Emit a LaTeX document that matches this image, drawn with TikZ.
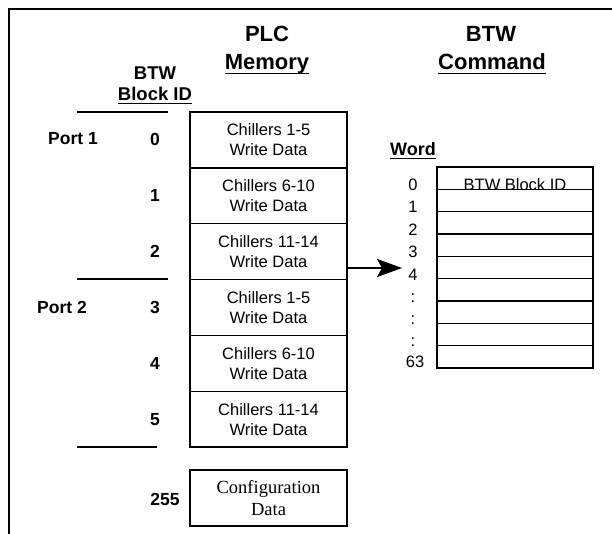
\documentclass[tikz,border=0pt]{standalone}
\usepackage{fontspec}
\setmainfont{Liberation Sans}
\newfontfamily\seriffam{Liberation Serif}
\usetikzlibrary{arrows.meta}
\newcommand\myul[2][4.5pt]{\setbox0\hbox{#2}\rlap{\rule[-#1]{\wd0}{1.3pt}}\box0}
\begin{document}
\begin{tikzpicture}[x=1pt,y=-1pt,
  head/.style={font=\bfseries\fontsize{22}{26}\selectfont, anchor=base, inner sep=0pt},
  subhead/.style={font=\bfseries\fontsize{18.5}{22}\selectfont, anchor=base, inner sep=0pt},
  lab/.style={font=\bfseries\fontsize{17.5}{21}\selectfont, inner sep=0pt},
  memcell/.style={draw, line width=1.3pt, minimum width=157pt, minimum height=55.83pt, align=center, font=\fontsize{16.5}{20}\selectfont, inner sep=0pt},
  wordcell/.style={draw, line width=1.1pt, minimum width=156pt, minimum height=22.33pt, inner sep=0pt},
  wnum/.style={font=\fontsize{16.5}{18}\selectfont, inner sep=0pt},
  sepline/.style={line width=1.3pt},
]
\useasboundingbox (0,0) rectangle (612,534);
\draw[line width=2.5pt] (9,534) -- (9,9) -- (612,9);

% headings
\node[head] (plc) at (267,42) {PLC};
\node[head] (mem) at (267,70) {\myul{Memory}};
\node[head] (btw) at (491,42) {BTW};
\node[head] (cmd) at (492,70) {\myul{Command}};
\node[subhead] (bbtw) at (155,80) {BTW};
\node[subhead] (bid) at (155,100.5) {\myul[4pt]{Block ID}};

% separators
\draw[sepline] (77,112) -- (168,112);
\draw[sepline] (77,279) -- (168,279);
\draw[sepline] (77,447) -- (157,447);

% memory cells
\node[memcell] (m0) at (268.5,139.9) {Chillers 1-5\\Write Data};
\node[memcell] (m1) at (268.5,195.8) {Chillers 6-10\\Write Data};
\node[memcell] (m2) at (268.5,251.6) {Chillers 11-14\\Write Data};
\node[memcell] (m3) at (268.5,307.4) {Chillers 1-5\\Write Data};
\node[memcell] (m4) at (268.5,363.3) {Chillers 6-10\\Write Data};
\node[memcell] (m5) at (268.5,419.1) {Chillers 11-14\\Write Data};
\node[memcell, minimum height=56pt, font=\seriffam\fontsize{18.5}{22}\selectfont] (cfg) at (268.5,498) {Configuration\\Data};

% block ids
\node[lab] (p1) at (73,139) {Port 1};
\node[lab] (p2) at (62,307) {Port 2};
\node[lab] (b0) at (155,139.9) {0};
\node[lab] (b1) at (155,195.8) {1};
\node[lab] (b2) at (155,251.6) {2};
\node[lab] (b3) at (155,307.4) {3};
\node[lab] (b4) at (155,363.3) {4};
\node[lab] (b5) at (155,419.1) {5};
\node[lab] (b255) at (165,499) {255};

% word table
\node[font=\bfseries\fontsize{18}{21}\selectfont, anchor=base, inner sep=0pt] (word) at (413,156) {\myul[3pt]{Word}};
\foreach \i in {0,...,8} {
  \node[wordcell] (w\i) at (515,{178.17+22.33*\i}) {};
}
\node[font=\fontsize{16.5}{20}\selectfont, anchor=base, inner sep=0pt] (bidtxt) at (515,190.5) {BTW Block ID};

\node[wnum] (n0) at (413,185) {0};
\node[wnum] (n1) at (413,207) {1};
\node[wnum] (n2) at (413,230) {2};
\node[wnum] (n3) at (413,252) {3};
\node[wnum] (n4) at (413,275) {4};
\node[wnum] (d1) at (413,298) {:};
\node[wnum] (d2) at (413,320) {:};
\node[wnum] (d3) at (413,342) {:};
\node[wnum] (n63) at (415,362) {63};

% arrow
\coordinate (tip) at (402,268);
\draw[line width=1.3pt, -{Stealth[length=25pt,width=18pt,inset=5pt]}] (m2.east |- tip) -- (tip);
\end{tikzpicture}
\end{document}
